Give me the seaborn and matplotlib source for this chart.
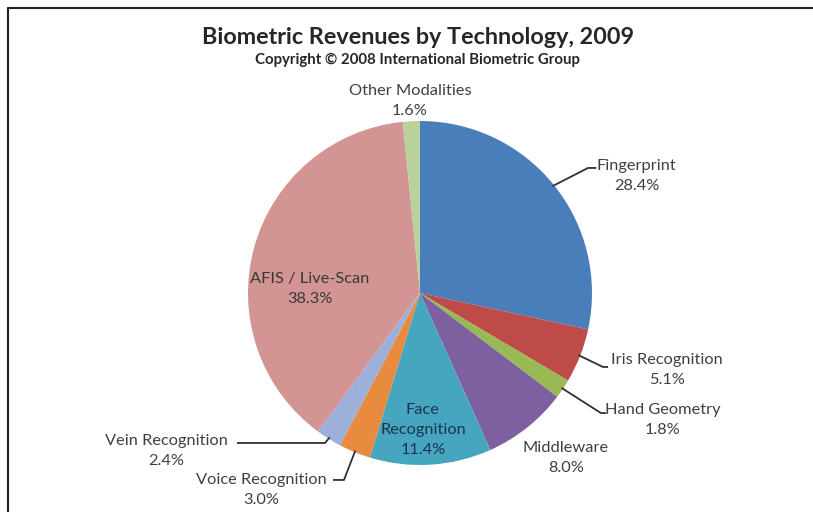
import numpy as np
import matplotlib
matplotlib.use("Agg")
import matplotlib.pyplot as plt
import seaborn as sns

# data, clockwise from 12 o'clock
technologies = ["Fingerprint", "Iris Recognition", "Hand Geometry", "Middleware",
                "Face\nRecognition", "Voice Recognition", "Vein Recognition",
                "AFIS / Live-Scan", "Other Modalities"]
shares = [28.4, 5.1, 1.8, 8.0, 11.4, 3.0, 2.4, 38.3, 1.6]
colors = ["#4A7EBB", "#BE4B48", "#98B954", "#7D60A0", "#46A6BF",
          "#E98B3E", "#9CB0DA", "#D39494", "#B9D29C"]

sns.set_theme(style="white")
plt.rcParams["font.family"] = ["Lato", "DejaVu Sans"]
txt_col = "#404040"

fig = plt.figure(figsize=(8.13, 5.12), dpi=100)
fig.patch.set_facecolor("white")

# pie axes: centre ~ (420, 293) px, radius ~172 px
cx, cy, r = 420, 293, 172
W, H = 813, 512
ax = fig.add_axes([(cx - r) / W, (H - cy - r) / H, 2 * r / W, 2 * r / H])
wedges, _ = ax.pie(shares, colors=colors, startangle=90, counterclock=False,
                   radius=1.0, wedgeprops=dict(linewidth=0))
ax.set_xlim(-1, 1)
ax.set_ylim(-1, 1)
ax.set_aspect("equal")
ax.axis("off")

# label placement (axes units): text centre, text colour, leader (elbow, end)
layout = {
    "Fingerprint":       ((1.26, 0.68), txt_col, ((0.977, 0.727), (1.025, 0.727))),
    "Iris Recognition":  ((1.436, -0.448), txt_col, ((1.064, -0.43), (1.093, -0.43))),
    "Hand Geometry":     ((1.41, -0.74), txt_col, ((1.052, -0.698), (1.081, -0.698))),
    "Middleware":        ((0.849, -0.96), txt_col, None),
    "Face\nRecognition": ((0.017, -0.797), "#1E3350", None),
    "Voice Recognition": ((-0.924, -1.145), txt_col, ((-0.442, -1.087), (-0.506, -1.087))),
    "Vein Recognition":  ((-1.477, -0.919), txt_col, ((-0.552, -0.872), (-1.064, -0.872))),
    "AFIS / Live-Scan":  ((-0.64, 0.023), "#383838", None),
    "Other Modalities":  ((-0.058, 1.116), txt_col, None),
}

for w, name, val in zip(wedges, technologies, shares):
    ang = np.deg2rad((w.theta1 + w.theta2) / 2)
    (tx, ty), col, leader = layout[name]
    ax.text(tx, ty, f"{name}\n{val:.1f}%", ha="center", va="center",
            fontsize=11.8, color=col, linespacing=1.55)
    if leader:
        (bx, by), (ex, ey) = leader
        px, py = np.cos(ang) * 0.99, np.sin(ang) * 0.99
        ax.plot([px, bx, ex], [py, by, ey], color="#303030", lw=1.3,
                clip_on=False, solid_capstyle="butt")

fig.text(0.514, 0.926, "Biometric Revenues by Technology, 2009", ha="center",
         va="center", fontsize=16.8, fontweight="bold", color="#262626")
fig.text(0.514, 0.882, "Copyright \u00a9 2008 International Biometric Group",
         ha="center", va="center", fontsize=10.8, fontweight="bold", color="#262626")

# chart frame (left and top edges visible)
fig.add_artist(plt.Line2D([8 / W, 8 / W], [0, 1 - 8 / H], color="#222222", lw=1.5,
                          transform=fig.transFigure))
fig.add_artist(plt.Line2D([8 / W, 1], [1 - 8 / H, 1 - 8 / H], color="#222222", lw=1.5,
                          transform=fig.transFigure))

fig.savefig("out.png", dpi=100, facecolor="white")
